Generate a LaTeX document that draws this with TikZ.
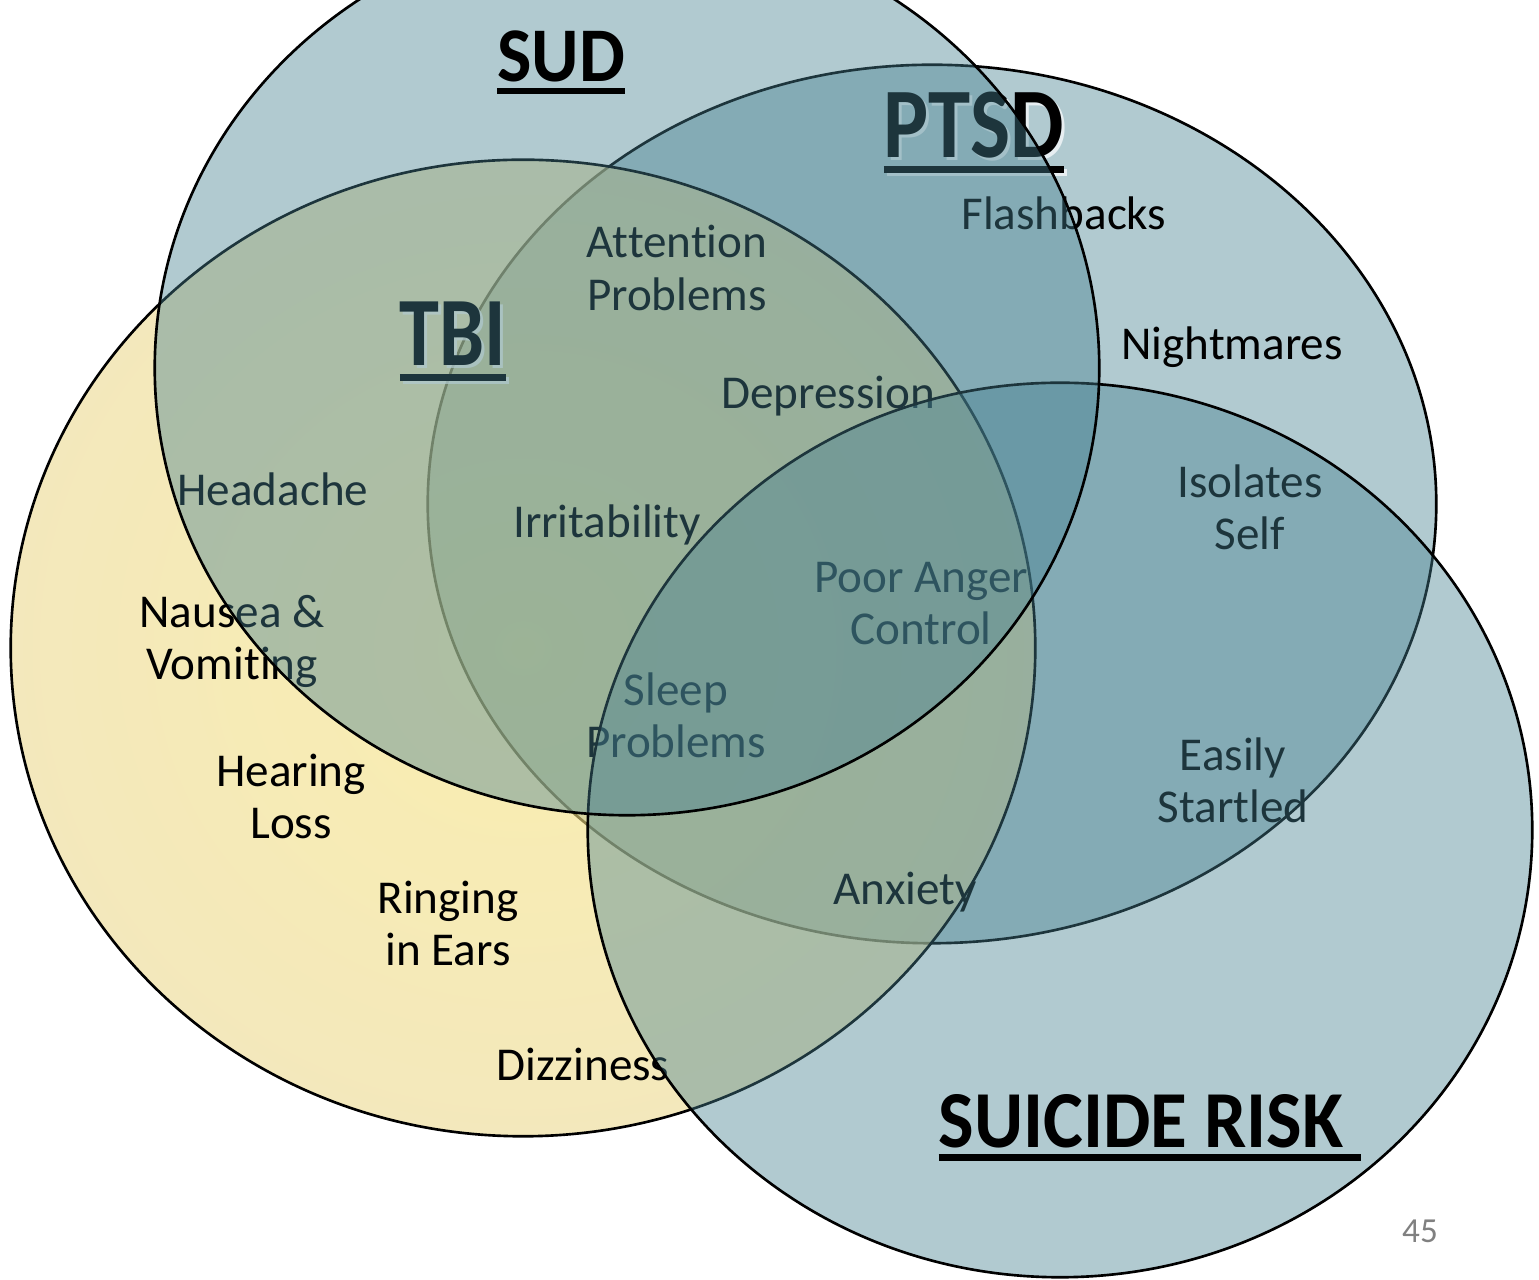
\documentclass[tikz,border=0pt]{standalone}
\usepackage{fontspec}
\setmainfont{Carlito}[Ligatures=NoCommon]
\usepackage{graphicx}
\definecolor{setblue}{RGB}{70,128,144}
\definecolor{tbiedge}{RGB}{235,217,143}
\definecolor{tbimid}{RGB}{247,226,122}
\definecolor{pagegray}{RGB}{128,128,128}
\newcommand{\ulword}[1]{\setbox0\hbox{#1}\leavevmode\rlap{\rule[-0.155em]{\wd0}{0.075em}}\box0}
\begin{document}
\begin{tikzpicture}[x=0.01cm, y=-0.01cm,
    symptom/.style={font=\fontsize{13.4}{14.8}\selectfont, align=center, inner sep=0pt},
    heading/.style={inner sep=0pt, anchor=base},
    riskset/.style={fill=setblue, fill opacity=0.42, draw=black, line width=0.75pt},
    ringline/.style={draw=black, line width=0.75pt}]
    \useasboundingbox (0,0) rectangle (1539,1280);
    \clip (0,0) rectangle (1539,1280);
    % PTSD lies lowest, TBI over it
    \path[riskset] (932,504) ellipse [x radius=5.04cm, y radius=4.39cm];
    \shade[inner color=tbimid, outer color=tbiedge, opacity=0.6] (523,648) ellipse [x radius=5.12cm, y radius=4.88cm];
    % symptoms
    \node[symptom] (attn) at (677,268) {Attention\\Problems};
    \node[symptom] (flash) at (1064,213) {Flashbacks};
    \node[symptom] (night) at (1232,347) {Nightmares};
    \node[symptom] (depr) at (828,396) {Depression};
    \node[symptom] (head) at (273,489) {Headache};
    \node[symptom] (irrit) at (607,525) {Irritability};
    \node[symptom] (isol) at (1250,507) {Isolates\\Self};
    \node[symptom] (anger) at (921,604) {Poor Anger\\Control};
    \node[symptom] (nausea) at (232,641) {Nausea \&\\Vomiting};
    \node[symptom] (sleep) at (676,715) {Sleep\\Problems};
    \node[symptom] (hearing) at (291,796) {Hearing\\Loss};
    \node[symptom] (startle) at (1233,780) {Easily\\Startled};
    \node[symptom] (ringing) at (448,923) {Ringing\\in Ears};
    \node[symptom] (anxiety) at (905,892) {Anxiety};
    \node[symptom] (dizzy) at (583,1064) {Dizziness};
    \path[ringline] (523,648) ellipse [x radius=5.12cm, y radius=4.88cm];
    % glowing titles
    \node[heading, text=white, opacity=0.7] (tbiglow) at (456,369) {\scalebox{0.82}[1]{\fontsize{27.9}{30}\bfseries\selectfont\ulword{TBI}}};
    \node[heading] (tbititle) at (453,366) {\scalebox{0.82}[1]{\fontsize{27.9}{30}\bfseries\selectfont\ulword{TBI}}};
    \node[heading, text=white, opacity=0.7] (ptsdglow) at (977,161) {\scalebox{0.85}[1]{\fontsize{28.4}{30}\bfseries\selectfont\ulword{PTSD}}};
    \node[heading] (ptsdtitle) at (974,158) {\scalebox{0.85}[1]{\fontsize{28.4}{30}\bfseries\selectfont\ulword{PTSD}}};
    % suicide risk, then SUD on top
    \path[riskset] (1060,830) ellipse [x radius=4.72cm, y radius=4.47cm];
    \path[riskset] (627,368) ellipse [x radius=4.72cm, y radius=4.47cm];
    \node[heading] (sudtitle) at (561,82) {\scalebox{0.94}[1]{\fontsize{22}{26}\bfseries\selectfont\ulword{SUD}}};
    \node[heading, anchor=base west] (risktitle) at (938,1148) {\scalebox{0.93}[1]{\fontsize{23}{26}\bfseries\selectfont\ulword{SUICIDE RISK\ }}};
    \node[text=pagegray, font=\fontsize{10}{12}\selectfont] (pagenum) at (1420,1231) {45};
\end{tikzpicture}
\end{document}
